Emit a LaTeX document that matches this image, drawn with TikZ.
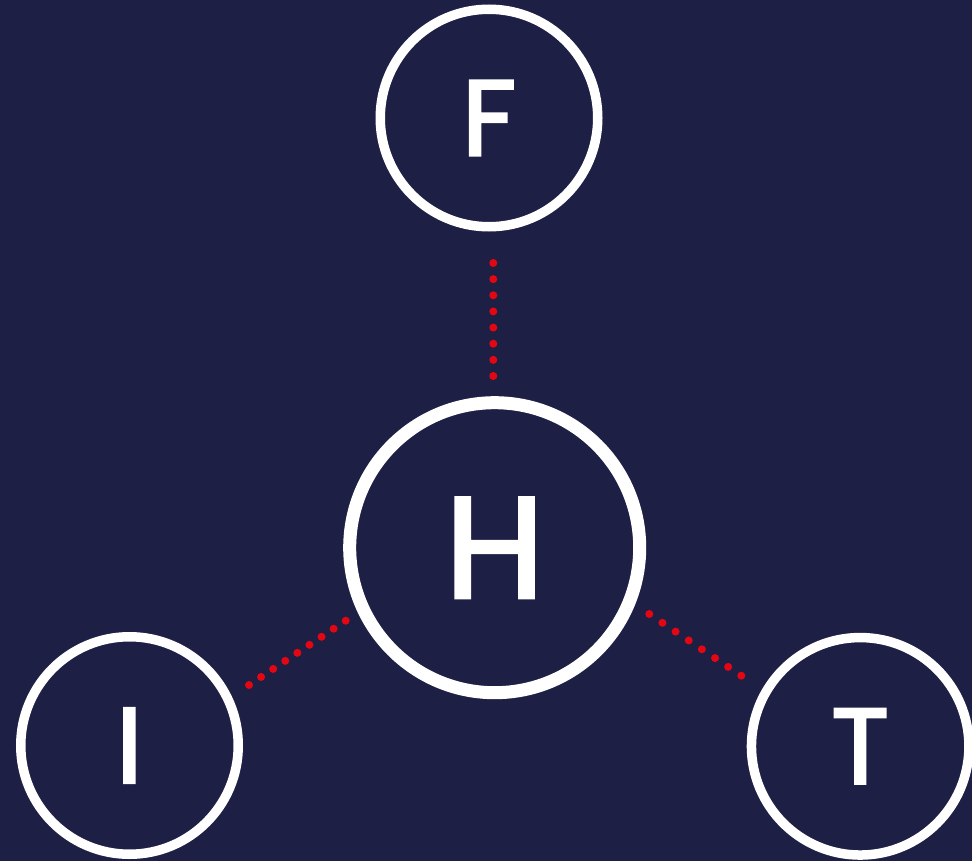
\documentclass[tikz,border=0pt]{standalone}
\usepackage{fontspec}
\setmainfont{Poppins}
\newfontfamily\labelfont[FakeBold=2.5]{Poppins}
\usetikzlibrary{calc}
\definecolor{bgnavy}{RGB}{30,31,69}
\definecolor{dotred}{RGB}{227,6,19}
\begin{document}
\begin{tikzpicture}[x=1pt,y=-1pt,
  ring/.style={circle,draw=white,line width=9.5pt,minimum size=217.5pt,inner sep=0pt,
    text=white,font=\labelfont\fontsize{107}{107}\selectfont},
  bigring/.style={ring,line width=13pt,minimum size=290pt,font=\labelfont\fontsize{143}{143}\selectfont},
  reddot/.style={fill=dotred}]
\fill[bgnavy] (0,0) rectangle (972,861);
\useasboundingbox (0,0) rectangle (972,861);
\node[ring] (F) at (489,118) {F};
\node[bigring] (H) at (494.7,547.7) {H};
\node[ring] (I) at (129.5,745.5) {I};
\node[ring] (T) at (860.2,746.3) {T};
% connector end points
\coordinate (fhA) at ([shift={(4.3,145)}]F.center);
\coordinate (fhB) at ([shift={(-1.4,-171.7)}]H.center);
\coordinate (ihA) at ([shift={(119.5,-60.5)}]I.center);
\coordinate (ihB) at ([shift={(-149,73)}]H.center);
\coordinate (htA) at ([shift={(154.6,66.3)}]H.center);
\coordinate (htB) at ([shift={(-118.9,-70.6)}]T.center);
\foreach \i in {0,...,7} \fill[reddot] ($(fhA)!\i/7!(fhB)$) circle[radius=4pt];
\foreach \i in {0,...,8} \fill[reddot] ($(ihA)!\i/8!(ihB)$) circle[radius=4pt];
\foreach \i in {0,...,7} \fill[reddot] ($(htA)!\i/7!(htB)$) circle[radius=4pt];
\end{tikzpicture}
\end{document}
